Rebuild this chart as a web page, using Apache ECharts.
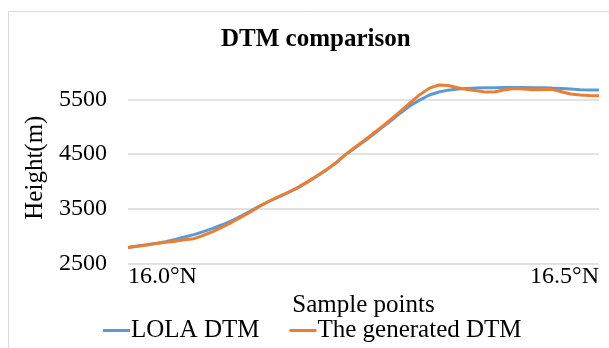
<!DOCTYPE html>
<html>
<head>
<meta charset="utf-8">
<script src="https://cdn.jsdelivr.net/npm/echarts@6/dist/echarts.min.js"></script>
<style>
html,body{margin:0;padding:0;background:#fff;}
#chart{width:609px;height:348px;}
</style>
</head>
<body>
<div id="chart"></div>
<script>
// Sample positions (latitude, degrees N)
var latitudes = [16.00,16.01,16.02,16.03,16.04,16.05,16.06,16.07,16.08,16.09,
  16.10,16.11,16.12,16.13,16.14,16.15,16.16,16.17,16.18,16.19,
  16.20,16.21,16.22,16.23,16.24,16.25,16.26,16.27,16.28,16.29,
  16.30,16.31,16.32,16.33,16.34,16.35,16.36,16.37,16.38,16.39,
  16.40,16.41,16.42,16.43,16.44,16.45,16.46,16.47,16.48,16.49,16.50];
// LOLA DTM heights (m)
var lolaDTM = [2790,2815,2840,2865,2895,2935,2980,3025,3080,3140,
  3205,3275,3365,3455,3550,3635,3715,3795,3880,3980,
  4090,4200,4325,4475,4600,4725,4850,4990,5120,5260,
  5390,5490,5580,5635,5668,5690,5700,5705,5710,5714,
  5718,5718,5716,5713,5710,5705,5698,5688,5676,5671,5670];
// The generated DTM heights (m)
var generatedDTM = [2790,2812,2835,2860,2885,2905,2930,2950,3010,3080,
  3160,3250,3345,3440,3547,3640,3722,3800,3885,3985,
  4092,4205,4330,4480,4610,4740,4870,5005,5145,5295,
  5445,5590,5705,5762,5752,5712,5680,5655,5632,5640,
  5675,5698,5690,5675,5680,5682,5640,5597,5579,5570,5565];
var yTicks = [2500,3500,4500,5500];
var xTickLabels = ['16.0°N','16.5°N'];
var seriesNames = ['LOLA DTM','The generated DTM'];

var lolaPairs = latitudes.map(function(x,i){return [x, lolaDTM[i]];});
var genPairs = latitudes.map(function(x,i){return [x, generatedDTM[i]];});

var FONT = '"Liberation Serif", "Times New Roman", serif';
var chart = echarts.init(document.getElementById('chart'), null, {renderer:'canvas'});
chart.setOption({
  animation:false,
  backgroundColor:'#ffffff',
  textStyle:{fontFamily:FONT},
  title:{
    text:'DTM comparison',
    left:216, top:22,
    textStyle:{fontFamily:FONT,fontSize:25,fontWeight:'bold',color:'#000'}
  },
  graphic:[{
    type:'rect', silent:true, z:-1,
    shape:{x:8.5,y:11.5,width:800,height:500},
    style:{fill:'none',stroke:'#d9d9d9',lineWidth:1}
  }],
  legend:{
    data:seriesNames,
    left:103, top:318, padding:0,
    icon:'rect', itemWidth:27, itemHeight:3, itemGap:30,
    textStyle:{fontFamily:FONT,fontSize:25,color:'#000',padding:[0,0,0,-4]}
  },
  grid:{left:128,right:10,top:72,bottom:84.7,containLabel:false},
  xAxis:{
    type:'value', min:16.0, max:16.5, interval:0.5,
    name:'Sample points', nameLocation:'middle', nameGap:27,
    nameTextStyle:{fontFamily:FONT,fontSize:25,color:'#000'},
    axisLine:{show:false}, axisTick:{show:false}, splitLine:{show:false},
    axisLabel:{
      fontFamily:FONT,fontSize:24,color:'#000',margin:1,
      alignMinLabel:'left', alignMaxLabel:'right',
      formatter:function(v){
        if (Math.abs(v-16.0)<1e-6) return xTickLabels[0];
        if (Math.abs(v-16.5)<1e-6) return xTickLabels[1];
        return '';
      }
    }
  },
  yAxis:{
    type:'value', min:yTicks[0], max:6000, interval:1000,
    name:'Height(m)', nameLocation:'middle', nameGap:64,
    nameTextStyle:{fontFamily:FONT,fontSize:25,color:'#000'},
    axisLine:{show:false}, axisTick:{show:false},
    axisLabel:{fontFamily:FONT,fontSize:24,color:'#000',margin:21,showMaxLabel:false,
      formatter:function(v){ return String(v); }},
    splitLine:{show:true,showMaxLine:false,lineStyle:{color:'#d9d9d9',width:1.5}}
  },
  series:[
    {name:seriesNames[0],type:'line',data:lolaPairs,showSymbol:false,symbol:'none',
     lineStyle:{color:'#5B9BD5',width:3},itemStyle:{color:'#5B9BD5'},z:2},
    {name:seriesNames[1],type:'line',data:genPairs,showSymbol:false,symbol:'none',
     lineStyle:{color:'#ED7D31',width:3},itemStyle:{color:'#ED7D31'},z:3}
  ]
});
</script>
</body>
</html>
